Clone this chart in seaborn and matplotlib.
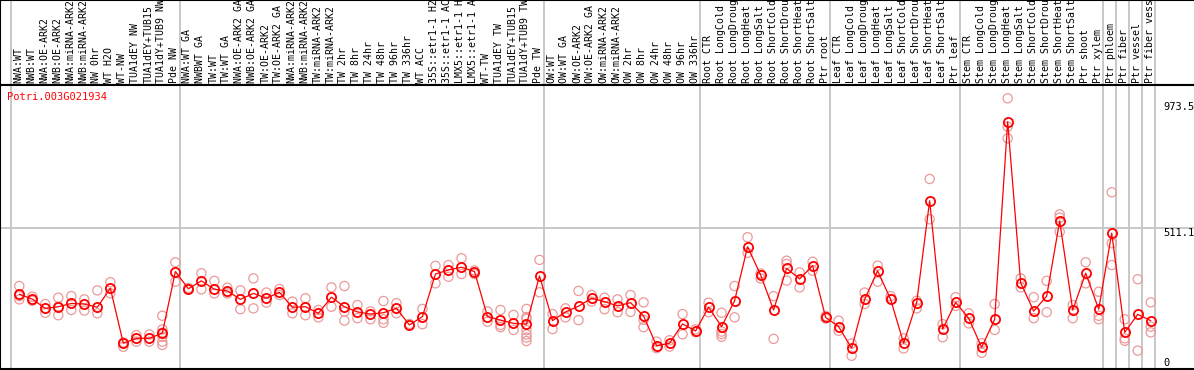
import numpy as np
import pandas as pd
import matplotlib
matplotlib.use("Agg")
import matplotlib.pyplot as plt
import seaborn as sns
from matplotlib.transforms import blended_transform_factory

# ---------------- data ----------------
title = "Potri.003G021934"

samples = [
    "NWA:WT", "NWB:WT", "NWA:OE-ARK2", "NWB:OE-ARK2", "NWA:miRNA-ARK2", "NWB:miRNA-ARK2",
    "NW 0hr", "WT H2O", "WT-NW", "TUA1dEY NW", "TUA1dEY+TUB15", "TUA1dY+TUB9 NW", "Pde NW",
    "NWA:WT GA", "NWBWT GA", "TW:WT", "TW:WT GA", "NWA:OE-ARK2 GA", "NWB:OE-ARK2 GA",
    "TW:OE-ARK2", "TW:OE-ARK2 GA", "NWA:miRNA-ARK2", "NWB:miRNA-ARK2", "TW:miRNA-ARK2",
    "TW:miRNA-ARK2", "TW 2hr", "TW 8hr", "TW 24hr", "TW 48hr", "TW 96hr", "TW 336hr",
    "WT ACC", "35S::etr1-1 H2", "35S::etr1-1 AC", "LMX5::etr1-1 H", "LMX5::etr1-1 A",
    "WT-TW", "TUA1dEY TW", "TUA1dEY+TUB15", "TUA1dY+TUB9 TW", "Pde TW",
    "OW:WT", "OW:WT GA", "OW:OE-ARK2", "OW:OE-ARK2 GA", "OW:miRNA-ARK2", "OW:miRNA-ARK2",
    "OW 2hr", "OW 8hr", "OW 24hr", "OW 48hr", "OW 96hr", "OW 336hr",
    "Root CTR", "Root LongCold", "Root LongDroug", "Root LongHeat", "Root LongSalt",
    "Root ShortCold", "Root ShortDrou", "Root ShortHeat", "Root ShortSalt", "Ptr root",
    "Leaf CTR", "Leaf LongCold", "Leaf LongDroug", "Leaf LongHeat", "Leaf LongSalt",
    "Leaf ShortCold", "Leaf ShortDrou", "Leaf ShortHeat", "Leaf ShortSalt", "Ptr leaf",
    "Stem CTR", "Stem LongCold", "Stem LongDroug", "Stem LongHeat", "Stem LongSalt",
    "Stem ShortCold", "Stem ShortDrou", "Stem ShortHeat", "Stem ShortSalt", "Ptr shoot",
    "Ptr xylem", "Ptr phloem", "Ptr fiber", "Ptr vessel", "Ptr fiber vess",
]

group_starts = [0, 13, 41, 53, 63, 73, 84, 85, 86, 87]

means = [
    269, 251, 217, 223, 235, 233, 221, 291, 89, 107, 107, 126, 352,
    289, 318, 287, 281, 250, 272, 254, 276, 221, 223, 199, 258, 223, 204, 196, 201,
    217, 156, 187, 343, 358, 368, 352, 187, 174, 162, 159, 336,
    172, 204, 225, 254, 242, 226, 238, 189, 80, 89, 160, 134,
    221, 150, 245, 443, 340, 211, 364, 325, 374, 184,
    150, 71, 250, 355, 250, 89, 238, 612, 141, 239,
    181, 74, 177, 902, 311, 207, 262, 538, 211, 346, 214,
    493, 129, 195, 172,
]

replicates = [
    [299, 250, 262], [260, 245], [233, 201], [256, 192, 223], [262, 211], [250, 209],
    [283, 199], [313, 272], [92, 76], [119, 95], [121, 95], [190, 140, 128, 113, 95, 83],
    [386, 315],
    [292, 286], [346, 287], [318, 272], [293, 272], [283, 214], [327, 217], [275, 238],
    [288, 266], [242, 199], [254, 192], [211, 184], [294, 223], [299, 205, 172],
    [229, 181], [206, 177], [244, 177, 164], [236, 199], [160], [215, 159], [373, 309],
    [376, 333], [401, 343], [356, 343], [206, 168], [211, 156, 148], [193, 138],
    [215, 185, 178, 137, 121, 110, 97], [395, 276],
    [196, 141], [217, 184], [281, 174], [266, 242], [256, 214], [250, 203], [266, 204],
    [239, 175, 148], [95, 71], [100, 77], [196, 122], [140, 130],
    [238, 203], [201, 132, 123, 113], [299, 184], [478, 421], [345, 327], [262, 105],
    [392, 380, 319], [349, 294], [388, 355], [189, 180],
    [172, 135], [88, 43], [275, 233], [374, 315], [262, 250], [107, 70], [245, 217],
    [692, 544], [159, 111], [258, 226],
    [199, 162], [89, 54], [233, 138], [988, 884, 841], [327, 294], [258, 181],
    [318, 203], [562, 498, 550], [229, 181], [386, 309], [278, 190, 177],
    [643, 456, 376], [177, 107, 98], [324, 62], [239, 150, 129],
]

ytick_values = [0, 511.1, 973.5]
ytick_labels = ["0", "511.1", "973.5"]

# ---------------- frames ----------------
pos = np.arange(len(samples))
df_mean = pd.DataFrame({"pos": pos, "value": means})
df_rep = pd.DataFrame(
    [(i, v) for i, vals in enumerate(replicates) for v in vals], columns=["pos", "value"]
)

# ---------------- figure ----------------
sns.set_theme(style="white")
plt.rcParams["font.family"] = ["DejaVu Sans Mono", "DejaVu Sans"]

W, H = 1194, 370
fig = plt.figure(figsize=(W / 100, H / 100), dpi=100)
fig.patch.set_facecolor("white")

x0_px, dx_px = 19.3, 13.005
xlim = (-x0_px / dx_px, (W - x0_px) / dx_px)
hdr_px = 85

ax_h = fig.add_axes([0, (H - hdr_px) / H, 1, hdr_px / H])
ax = fig.add_axes([0, 1 / H, 1, (369 - hdr_px) / H])

for a in (ax, ax_h):
    a.set_xlim(*xlim)
    a.set_xticks([])
    a.set_yticks([])
    a.set_facecolor("white")
    for s in a.spines.values():
        s.set_color("black")
        s.set_linewidth(1.5)
    a.spines["right"].set_visible(False)

ax_h.set_ylim(0, 1)
ax.set_ylim(-5.5, 1036.8)

grey = "#c4c4c4"
bounds = [g - 0.65 for g in group_starts] + [len(samples) - 0.65]
for b in bounds:
    ax.axvline(b, color=grey, lw=1.3, zorder=0)
    ax_h.axvline(b, color=grey, lw=1.3, zorder=0)

ax.axhline(ytick_values[1], color=grey, lw=1.3, zorder=0)

# header labels
for i, lab in enumerate(samples):
    ax_h.text(i - 0.08, 0.025, lab, rotation=90, ha="center", va="bottom",
              fontsize=7.1, color="black")

# replicates
sns.scatterplot(data=df_rep, x="pos", y="value", ax=ax, marker="o", s=44,
                facecolor="none", edgecolor="#eb9a9a", linewidth=0.9, zorder=2,
                legend=False)
# means
sns.lineplot(data=df_mean, x="pos", y="value", ax=ax, color="#ff0000", lw=0.9,
             marker="o", markersize=6.6, markerfacecolor="none",
             markeredgecolor="#ff0000", markeredgewidth=1.3, errorbar=None,
             zorder=3, legend=False)

ax.set_xlim(*xlim)
ax.set_xlabel("")
ax.set_ylabel("")
ax.set_xticks([])
ax.set_yticks([])

# y labels at the right
tr = blended_transform_factory(ax.transAxes, ax.transData)
xl = 1163 / W
ax.text(xl, ytick_values[2], ytick_labels[2], transform=tr, ha="left", va="top",
        fontsize=7.5, color="black")
ax.text(xl, ytick_values[1], ytick_labels[1], transform=tr, ha="left", va="top",
        fontsize=7.5, color="black")
ax.text(xl, ytick_values[0], ytick_labels[0], transform=tr, ha="left", va="bottom",
        fontsize=7.5, color="black")

# title
ax.text(7 / W, 1 - 12 / 284, title, transform=ax.transAxes, ha="left", va="center",
        fontsize=7.5, color="#ff0000")

fig.savefig("out.png", dpi=100, facecolor="white")
